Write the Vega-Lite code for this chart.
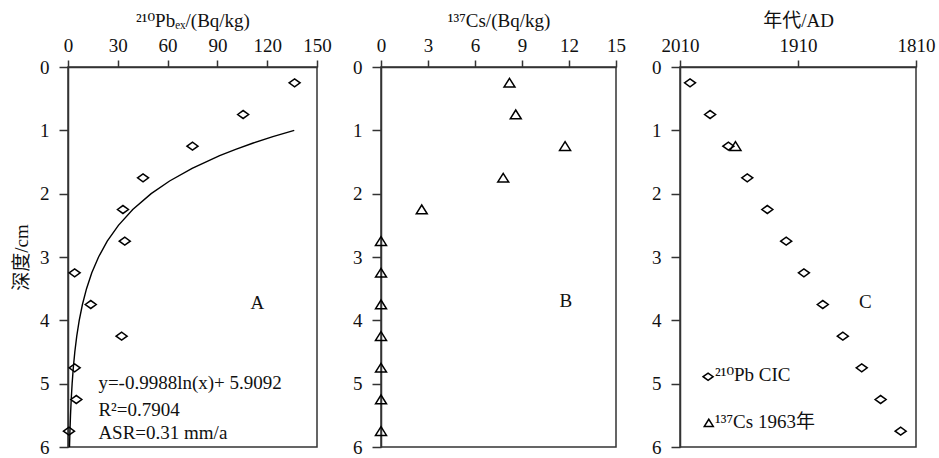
{
  "$schema": "https://vega.github.io/schema/vega-lite/v6.json",
  "background": "white",
  "padding": {"left": 11, "top": 10, "right": 5, "bottom": 5},
  "spacing": 64,
  "bounds": "flush",
  "config": {
    "font": "'Liberation Serif', 'DejaVu Serif', 'Noto Sans CJK SC', serif",
    "view": {"stroke": "#333", "strokeWidth": 1.5},
    "axis": {
      "labelFont": "'Liberation Serif', 'DejaVu Serif', 'Noto Sans CJK SC', serif",
      "titleFont": "'Liberation Serif', 'DejaVu Serif', 'Noto Sans CJK SC', serif",
      "labelFontSize": 19, "titleFontSize": 19, "titleFontWeight": "normal",
      "labelColor": "#111", "titleColor": "#111",
      "domainColor": "#333", "domainWidth": 1.5, "tickColor": "#333", "tickWidth": 1.5,
      "grid": false
    },
    "axisX": {"tickSize": 7, "labelPadding": 5, "titlePadding": 6, "labelFlush": false},
    "axisY": {"tickSize": 9, "labelPadding": 10, "titlePadding": 8, "labelFlush": false}
  },
  "datasets": {
    "pb": [
      {"depth": 0.25, "pb210": 136.5}, {"depth": 0.75, "pb210": 105.5}, {"depth": 1.25, "pb210": 75},
      {"depth": 1.75, "pb210": 45.2}, {"depth": 2.25, "pb210": 33.1}, {"depth": 2.75, "pb210": 34.2},
      {"depth": 3.25, "pb210": 4}, {"depth": 3.75, "pb210": 13.7}, {"depth": 4.25, "pb210": 32.3},
      {"depth": 4.75, "pb210": 4}, {"depth": 5.25, "pb210": 5}, {"depth": 5.75, "pb210": 0.6}
    ],
    "fit": [
      {"depth": 1.0, "pb210": 136.3}, {"depth": 1.1, "pb210": 123.4}, {"depth": 1.2, "pb210": 111.6},
      {"depth": 1.3, "pb210": 101.0}, {"depth": 1.4, "pb210": 91.35}, {"depth": 1.6, "pb210": 74.77},
      {"depth": 1.8, "pb210": 61.2}, {"depth": 2.0, "pb210": 50.1}, {"depth": 2.25, "pb210": 39.0},
      {"depth": 2.5, "pb210": 30.36}, {"depth": 2.75, "pb210": 23.64}, {"depth": 3.0, "pb210": 18.41},
      {"depth": 3.25, "pb210": 14.33}, {"depth": 3.5, "pb210": 11.16}, {"depth": 3.75, "pb210": 8.69},
      {"depth": 4.0, "pb210": 6.76}, {"depth": 4.25, "pb210": 5.27}, {"depth": 4.5, "pb210": 4.1},
      {"depth": 4.75, "pb210": 3.19}, {"depth": 5.0, "pb210": 2.49}, {"depth": 5.25, "pb210": 1.94},
      {"depth": 5.5, "pb210": 1.51}, {"depth": 5.75, "pb210": 1.17}, {"depth": 6.0, "pb210": 0.91}
    ],
    "cs": [
      {"depth": 0.25, "cs137": 8.2}, {"depth": 0.75, "cs137": 8.6}, {"depth": 1.25, "cs137": 11.75},
      {"depth": 1.75, "cs137": 7.8}, {"depth": 2.25, "cs137": 2.6}, {"depth": 2.75, "cs137": 0},
      {"depth": 3.25, "cs137": 0}, {"depth": 3.75, "cs137": 0}, {"depth": 4.25, "cs137": 0},
      {"depth": 4.75, "cs137": 0}, {"depth": 5.25, "cs137": 0}, {"depth": 5.75, "cs137": 0}
    ],
    "ages": [
      {"depth": 0.25, "year": 2001.5}, {"depth": 0.75, "year": 1984.5}, {"depth": 1.25, "year": 1969},
      {"depth": 1.75, "year": 1953}, {"depth": 2.25, "year": 1936}, {"depth": 2.75, "year": 1920},
      {"depth": 3.25, "year": 1905}, {"depth": 3.75, "year": 1889}, {"depth": 4.25, "year": 1872},
      {"depth": 4.75, "year": 1856}, {"depth": 5.25, "year": 1840}, {"depth": 5.75, "year": 1823}
    ],
    "cs1963": [{"depth": 1.25, "year": 1963}]
  },
  "hconcat": [
    {
      "width": 249, "height": 380,
      "layer": [
        {
          "data": {"name": "fit"},
          "mark": {"type": "line", "color": "black", "strokeWidth": 1.4},
          "encoding": {
            "x": {"field": "pb210", "type": "quantitative", "scale": {"domain": [0, 150], "nice": false},
                  "axis": {"orient": "top", "values": [0, 30, 60, 90, 120, 150], "title": "²¹⁰Pbₑₓ/(Bq/kg)"}},
            "y": {"field": "depth", "type": "quantitative", "scale": {"domain": [0, 6], "reverse": true, "nice": false},
                  "axis": {"values": [0, 1, 2, 3, 4, 5, 6], "format": "d", "title": "深度/cm"}},
            "order": {"field": "depth"}
          }
        },
        {
          "data": {"name": "pb"},
          "mark": {"type": "point", "shape": "M-1,0L0,-0.72L1,0L0,0.72Z", "size": 121, "stroke": "black", "strokeWidth": 1.5, "filled": false, "opacity": 1},
          "encoding": {
            "x": {"field": "pb210", "type": "quantitative"},
            "y": {"field": "depth", "type": "quantitative"}
          }
        },
        {
          "data": {"values": [{}]},
          "mark": {"type": "text", "text": "A", "fontSize": 19, "color": "#111"},
          "encoding": {"x": {"datum": 114}, "y": {"datum": 3.73}}
        },
        {
          "data": {"values": [{}]},
          "mark": {"type": "text", "text": "y=-0.9988ln(x)+ 5.9092", "fontSize": 19, "align": "left", "color": "#111"},
          "encoding": {"x": {"datum": 18.3}, "y": {"datum": 4.99}}
        },
        {
          "data": {"values": [{}]},
          "mark": {"type": "text", "text": "R²=0.7904", "fontSize": 19, "align": "left", "color": "#111"},
          "encoding": {"x": {"datum": 18.3}, "y": {"datum": 5.41}}
        },
        {
          "data": {"values": [{}]},
          "mark": {"type": "text", "text": "ASR=0.31 mm/a", "fontSize": 19, "align": "left", "color": "#111"},
          "encoding": {"x": {"datum": 18.3}, "y": {"datum": 5.78}}
        }
      ]
    },
    {
      "width": 235, "height": 380,
      "layer": [
        {
          "data": {"name": "cs"},
          "mark": {"type": "point", "shape": "M-1,0.78L0,-0.82L1,0.78Z", "size": 121, "stroke": "black", "strokeWidth": 1.5, "filled": false, "opacity": 1},
          "encoding": {
            "x": {"field": "cs137", "type": "quantitative", "scale": {"domain": [0, 15], "nice": false},
                  "axis": {"orient": "top", "values": [0, 3, 6, 9, 12, 15], "title": "¹³⁷Cs/(Bq/kg)"}},
            "y": {"field": "depth", "type": "quantitative", "scale": {"domain": [0, 6], "reverse": true, "nice": false},
                  "axis": {"values": [0, 1, 2, 3, 4, 5, 6], "format": "d", "title": null}}
          }
        },
        {
          "data": {"values": [{}]},
          "mark": {"type": "text", "text": "B", "fontSize": 19, "color": "#111"},
          "encoding": {"x": {"datum": 11.8}, "y": {"datum": 3.7}}
        }
      ]
    },
    {
      "width": 236, "height": 380,
      "layer": [
        {
          "data": {"name": "ages"},
          "mark": {"type": "point", "shape": "M-1,0L0,-0.72L1,0L0,0.72Z", "size": 121, "stroke": "black", "strokeWidth": 1.5, "filled": false, "opacity": 1},
          "encoding": {
            "x": {"field": "year", "type": "quantitative", "scale": {"domain": [1810, 2010], "reverse": true, "nice": false},
                  "axis": {"orient": "top", "values": [2010, 1910, 1810], "format": "d", "title": "年代/AD"}},
            "y": {"field": "depth", "type": "quantitative", "scale": {"domain": [0, 6], "reverse": true, "nice": false},
                  "axis": {"values": [0, 1, 2, 3, 4, 5, 6], "format": "d", "title": null}}
          }
        },
        {
          "data": {"name": "cs1963"},
          "mark": {"type": "point", "shape": "M-1,0.78L0,-0.82L1,0.78Z", "size": 121, "stroke": "black", "strokeWidth": 1.5, "filled": false, "opacity": 1},
          "encoding": {
            "x": {"field": "year", "type": "quantitative"},
            "y": {"field": "depth", "type": "quantitative"}
          }
        },
        {
          "data": {"values": [{}]},
          "mark": {"type": "text", "text": "C", "fontSize": 19, "color": "#111"},
          "encoding": {"x": {"datum": 1853}, "y": {"datum": 3.71}}
        },
        {
          "data": {"values": [{}]},
          "mark": {"type": "point", "shape": "M-1,0L0,-0.72L1,0L0,0.72Z", "size": 100, "stroke": "black", "strokeWidth": 1.5, "filled": false, "opacity": 1},
          "encoding": {"x": {"datum": 1986.2}, "y": {"datum": 4.89}}
        },
        {
          "data": {"values": [{}]},
          "mark": {"type": "text", "text": "²¹⁰Pb CIC", "fontSize": 19, "align": "left", "color": "#111"},
          "encoding": {"x": {"datum": 1980.3}, "y": {"datum": 4.87}}
        },
        {
          "data": {"values": [{}]},
          "mark": {"type": "point", "shape": "M-1,0.78L0,-0.82L1,0.78Z", "size": 80, "stroke": "black", "strokeWidth": 1.5, "filled": false, "opacity": 1},
          "encoding": {"x": {"datum": 1985.6}, "y": {"datum": 5.62}}
        },
        {
          "data": {"values": [{}]},
          "mark": {"type": "text", "text": "¹³⁷Cs 1963年", "fontSize": 19, "align": "left", "color": "#111"},
          "encoding": {"x": {"datum": 1980.3}, "y": {"datum": 5.6}}
        }
      ]
    }
  ]
}
